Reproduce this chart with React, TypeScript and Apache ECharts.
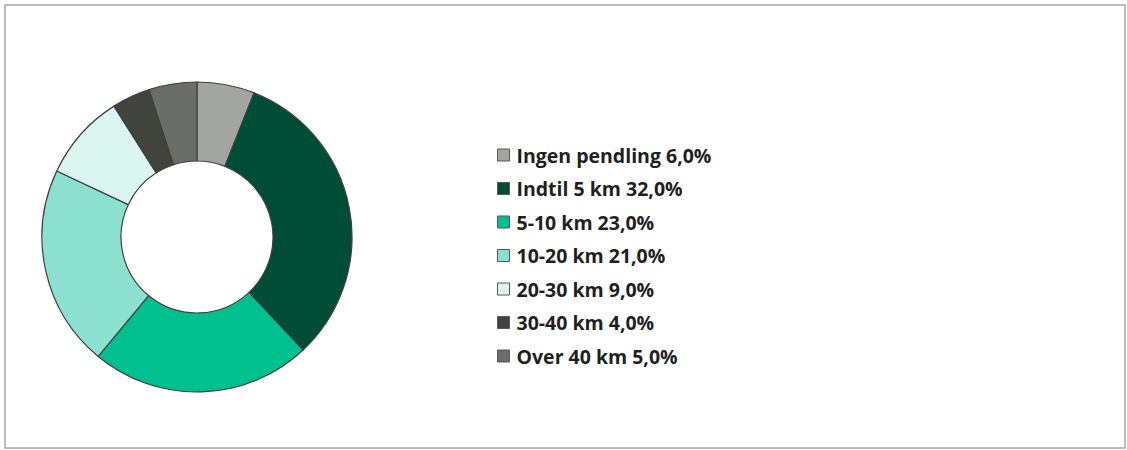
import React, { useEffect, useRef } from "react";
import * as echarts from "echarts";

const categories = ["Ingen pendling", "Indtil 5 km", "5-10 km", "10-20 km", "20-30 km", "30-40 km", "Over 40 km"];
const values = [6.0, 32.0, 23.0, 21.0, 9.0, 4.0, 5.0];
const colors = ["#a2a5a0", "#004d37", "#00c08f", "#8ce0d0", "#daf5f0", "#41443d", "#6b6e68"];

export default function App() {
  const ref = useRef<HTMLDivElement>(null);
  useEffect(() => {
    const chart = echarts.init(ref.current!, null, { renderer: "svg" });
    const fmt = (v: number) => v.toFixed(1).replace(".", ",") + "%";
    chart.setOption({
      animation: false,
      backgroundColor: "#ffffff",
      graphic: [
        {
          type: "rect",
          shape: { x: 5, y: 5, width: 1120, height: 443 },
          style: { fill: "none", stroke: "#a6a6a6", lineWidth: 1.5 },
          silent: true,
        },
      ],
      legend: {
        orient: "vertical",
        left: 497,
        top: 145,
        padding: 0,
        itemWidth: 12,
        itemHeight: 12,
        itemGap: 13.5,
        icon: "rect",
        selectedMode: false,
        itemStyle: { borderColor: "#595959", borderWidth: 1 },
        textStyle: {
          fontFamily: "Open Sans",
          fontWeight: "bold",
          fontSize: 19.5,
          color: "#1f1f1f",
          lineHeight: 20,
          padding: [0, 0, 0, 2],
        },
        formatter: (name: string) => {
          const i = categories.indexOf(name);
          return name + " " + fmt(values[i]);
        },
        data: categories,
      },
      series: [
        {
          type: "pie",
          center: [197, 237],
          radius: [76, 155],
          startAngle: 90,
          clockwise: true,
          label: { show: false },
          labelLine: { show: false },
          emphasis: { disabled: true },
          itemStyle: { borderColor: "#404040", borderWidth: 1.2 },
          data: categories.map((c, i) => ({ name: c, value: values[i], itemStyle: { color: colors[i] } })),
        },
      ],
    });
    return () => chart.dispose();
  }, []);
  return <div ref={ref} style={{ position: "absolute", left: 0, top: 0, width: 1127, height: 450 }} />;
}
